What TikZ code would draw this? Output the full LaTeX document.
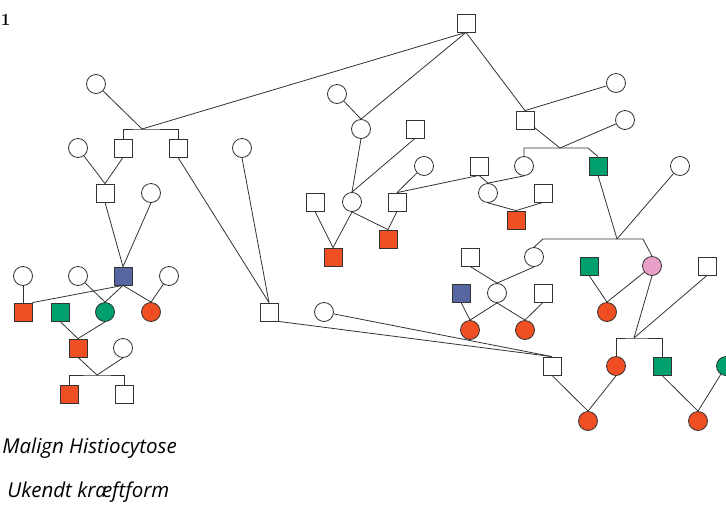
\documentclass[tikz,border=0pt]{standalone}
\usepackage{fontspec}
\setsansfont{Open Sans}
\usetikzlibrary{positioning}

\definecolor{mhred}{HTML}{F04E23}
\definecolor{mhgreen}{HTML}{00A06E}
\definecolor{mhblue}{HTML}{5566A0}
\definecolor{mhpink}{HTML}{E8A0C8}
\definecolor{mhline}{HTML}{333333}

\begin{document}
\begin{tikzpicture}
    [x=1pt, y=-1pt, line width=0.8pt, draw=mhline,
     every node/.style={draw=mhline, line width=0.8pt, inner sep=0pt, fill=white},
     sq/.style={rectangle, minimum size=18pt},
     ci/.style={circle, minimum size=19pt},
     txt/.style={draw=none, fill=none, font=\sffamily\itshape\fontsize{20.5}{24}\selectfont}]

    \useasboundingbox (0,0) rectangle (726,504);

    % left family
    \node[ci] (C1) at (96,84) {};
    \node[sq] (S2) at (123,148) {};
    \node[sq] (S3) at (178,148) {};
    \node[ci] (C2) at (78,148) {};
    \node[ci] (C3) at (242,148) {};
    \node[sq] (S4) at (105,193) {};
    \node[ci] (C4) at (151,193) {};
    \node[sq, fill=mhblue] (B1) at (123,276) {};
    \node[ci] (C5) at (23,276) {};
    \node[ci] (C6) at (78,276) {};
    \node[ci] (C7) at (169,276) {};
    \node[sq, fill=mhred] (R1) at (23,312) {};
    \node[sq, fill=mhgreen] (G1) at (60,312) {};
    \node[ci, fill=mhgreen] (GC1) at (105,312) {};
    \node[ci, fill=mhred] (RC1) at (151,312) {};
    \node[sq, fill=mhred] (R2) at (78,348) {};
    \node[ci] (C8) at (123,348) {};
    \node[sq, fill=mhred] (R3) at (69,394) {};
    \node[sq] (S5) at (124,394) {};
    \coordinate (J1) at (142,129);
    \coordinate (J2) at (97,375);

    % middle family
    \node[sq] (S1) at (466,23) {};
    \node[ci] (C9) at (337,94) {};
    \node[ci] (C10) at (361,129) {};
    \node[sq] (S6) at (415,129) {};
    \node[ci] (C11) at (352,202) {};
    \node[sq] (S7) at (315,202) {};
    \node[sq] (S8) at (397,202) {};
    \node[ci] (C12) at (424,166) {};
    \node[sq, fill=mhred] (R4) at (333,257) {};
    \node[sq, fill=mhred] (R5) at (388,239) {};
    \node[sq] (S9) at (479,166) {};
    \node[ci] (C13) at (524,166) {};
    \node[ci] (C14) at (488,193) {};
    \node[sq] (S10) at (543,193) {};
    \node[sq, fill=mhred] (R6) at (516,220) {};
    \node[sq] (S15) at (269,312) {};
    \node[ci] (C20) at (324,312) {};

    % right family
    \node[sq] (S11) at (525,120) {};
    \node[ci] (C15) at (616,83) {};
    \node[ci] (C16) at (625,120) {};
    \node[sq, fill=mhgreen] (G2) at (598,166) {};
    \node[ci] (C17) at (680,166) {};
    \node[ci] (C18) at (534,257) {};
    \node[ci, fill=mhpink] (P1) at (652,266) {};
    \node[sq] (S12) at (470,257) {};
    \node[ci] (C19) at (497,293) {};
    \node[sq, fill=mhblue] (B2) at (461,293) {};
    \node[sq] (S13) at (543,293) {};
    \node[ci, fill=mhred] (RC2) at (470,330) {};
    \node[ci, fill=mhred] (RC3) at (525,330) {};
    \node[sq, fill=mhgreen] (G3) at (589,266) {};
    \node[ci, fill=mhred] (RC4) at (607,312) {};
    \node[sq] (S14) at (707,266) {};
    \node[sq] (S16) at (552,366) {};
    \node[ci, fill=mhred] (RC5) at (616,366) {};
    \node[sq, fill=mhgreen] (G4) at (662,366) {};
    \node[ci, fill=mhgreen] (GC2) at (726,366) {};
    \node[ci, fill=mhred] (RC6) at (588,421) {};
    \node[ci, fill=mhred] (RC7) at (698,421) {};
    \coordinate (J3) at (560,148);
    \coordinate (J3b) at (588,148);
    \coordinate (J4) at (617,239);
    \coordinate (J4a) at (543,239);
    \coordinate (J4b) at (643,239);
    \coordinate (J5) at (634,338);

    % left lines
    \draw[-] (C1) -- (J1);
    \draw[-] (S1.south) -- (J1);
    \draw[-] (S2.north) |- (J1) -| (S3.north);
    \draw[-] (C2) -- (S4.north);
    \draw[-] (S2.south) -- (S4.north);
    \draw[-] (S4.south) -- (B1.north);
    \draw[-] (C4.south) -- (B1.north);
    \draw[-] (C5.south) -- (R1.north);
    \draw[-] (B1.south) -- (R1.north east);
    \draw[-] (C6) -- (GC1.north);
    \draw[-] (B1.south) -- (GC1.north);
    \draw[-] (B1.south) -- (RC1.north);
    \draw[-] (C7) -- (RC1.north);
    \draw[-] (G1.south) -- (R2.north);
    \draw[-] (GC1.south) -- (R2.north);
    \draw[-] (R2.south) -- (J2);
    \draw[-] (C8.south) -- (J2);
    \draw[-] (R3.north) |- (J2) -| (S5.north);

    % middle lines
    \draw[-] (S1.south) -- (C10.north);
    \draw[-] (C9) -- (C10.north);
    \draw[-] (C10.south) -- (C11.north);
    \draw[-] (S6.south) -- (C11.north);
    \draw[-] (S7.south) -- (R4.north);
    \draw[-] (C11.south) -- (R4.north);
    \draw[-] (C11.south) -- (R5.north);
    \draw[-] (S8.south) -- (R5.north);
    \draw[-] (C12) -- (S8.north);
    \draw[-] (S8.north) -- (S9.south);
    \draw[-] (S9.south) -- (C14.north);
    \draw[-] (C13.south) -- (C14.north);
    \draw[-] (C14.south) -- (R6.north);
    \draw[-] (S10.south) -- (R6.north);
    \draw[-] (S3.south) -- (S15.north);
    \draw[-] (C3.south) -- (S15.north);
    \draw[-] (S15.south east) -- (S16.north);
    \draw[-] (C20) -- (S16.north);

    % right lines
    \draw[-] (S1.south) -- (S11.north);
    \draw[-] (S11.north) -- (C15);
    \draw[-] (S11) -- (J3);
    \draw[-] (C16) -- (J3);
    \draw[-] (C13.north) |- (J3b) -- (G2.north);
    \draw[-] (G2.south) -- (J4);
    \draw[-] (C17) -- (J4);
    \draw[-] (C18.north) -- (J4a) -- (J4b) -- (P1.north);
    \draw[-] (S12.south) -- (C19.north);
    \draw[-] (C18.south) -- (C19.north);
    \draw[-] (C19.south) -- (RC2.north);
    \draw[-] (C19.south) -- (RC3.north);
    \draw[-] (B2.south) -- (RC2.north);
    \draw[-] (S13.south) -- (RC3.north);
    \draw[-] (G3.south) -- (RC4.north);
    \draw[-] (P1) -- (RC4.north);
    \draw[-] (P1.south) -- (J5);
    \draw[-] (S14.south) -- (J5);
    \draw[-] (RC5.north) |- (J5) -| (G4.north);
    \draw[-] (S16.south) -- (RC6.north);
    \draw[-] (RC5.south) -- (RC6.north);
    \draw[-] (G4.south) -- (RC7.north);
    \draw[-] (GC2) -- (RC7.north);

    % texts
    \node[draw=none, fill=none, anchor=base west, font=\bfseries\fontsize{17}{19}\selectfont] (T0) at (0.5,25) {1};
    \node[txt, anchor=base west] (T1) at (2,453) {Malign Histiocytose};
    \node[txt, anchor=base west] (T2) at (7,497) {Ukendt kræftform};
\end{tikzpicture}
\end{document}
